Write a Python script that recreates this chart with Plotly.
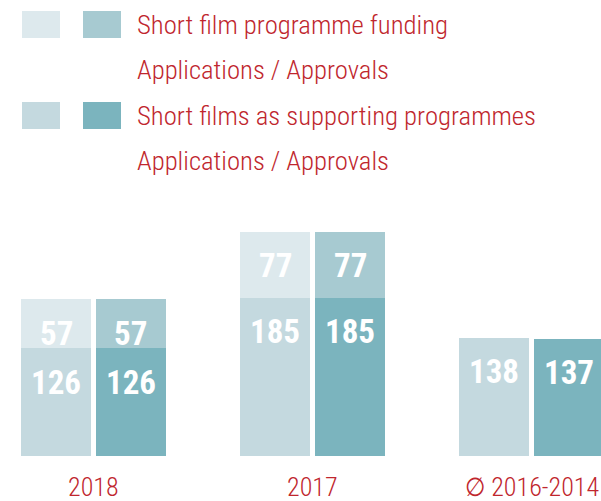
import plotly.graph_objects as go

groups = ["2018", "2017", "∅ 2016-2014"]
# bottom segment: Short films as supporting programmes
support_applications = [126, 185, 138]
support_approvals = [126, 185, 137]
# top segment: Short film programme funding
funding_applications = [57, 77, None]
funding_approvals = [57, 77, None]

legend_lines = ["Short film programme funding", "Applications / Approvals",
                "Short films as supporting programmes", "Applications / Approvals"]

C_FUND_APP = "#dde9ed"
C_FUND_APR = "#a7cad1"
C_SUP_APP = "#c4d9df"
C_SUP_APR = "#7bb4be"
RED = "#c0262d"
NUM_FONT = "Roboto Condensed, DejaVu Sans Condensed, Roboto, sans-serif"
TXT_FONT = "Roboto Condensed, DejaVu Sans Condensed, Roboto, sans-serif"

W, H = 601, 501
T, B = 200, 45
PH = H - T - B

def py(p):
    return (H - B - p) / PH

def px(p):
    return p / W

off = 0.171
bw = 0.3196
gx = list(range(len(groups)))
xl = [g - off for g in gx]
xr = [g + off for g in gx]

fig = go.Figure()
fig.add_bar(x=xl, y=support_applications, width=bw, marker_color=C_SUP_APP, marker_line_width=0)
fig.add_bar(x=xr, y=support_approvals, width=bw, marker_color=C_SUP_APR, marker_line_width=0)
fig.add_bar(x=xl, y=funding_applications, width=bw, marker_color=C_FUND_APP, marker_line_width=0)
fig.add_bar(x=xr, y=funding_approvals, width=bw, marker_color=C_FUND_APR, marker_line_width=0)

ann = []
def label(x, top, v):
    ann.append(dict(x=x, y=top, xref="x", yref="y", text=str(v), showarrow=False,
                    yanchor="middle", yshift=-34,
                    font=dict(family=NUM_FONT, size=33, color="white", weight="bold")))

for i in gx:
    label(xl[i], support_applications[i], support_applications[i])
    label(xr[i], support_approvals[i], support_approvals[i])
    if funding_applications[i] is not None:
        label(xl[i], support_applications[i] + funding_applications[i], funding_applications[i])
    if funding_approvals[i] is not None:
        label(xr[i], support_approvals[i] + funding_approvals[i], funding_approvals[i])
    ann.append(dict(x=i, y=py(487), xref="x", yref="paper", text=groups[i], showarrow=False,
                    yanchor="middle", font=dict(family=TXT_FONT, size=26, color=RED, weight=300)))

for line, yc in zip(legend_lines, [25, 70, 116, 161]):
    ann.append(dict(x=px(135), y=py(yc), xref="paper", yref="paper", text=line, showarrow=False,
                    xanchor="left", yanchor="middle",
                    font=dict(family=TXT_FONT, size=26.7, color=RED, weight=300)))

shapes = []
for (x0, x1, y0, y1, c) in [(22, 60, 11, 38, C_FUND_APP), (83, 121, 11, 38, C_FUND_APR),
                            (22, 60, 102, 129, C_SUP_APP), (83, 121, 102, 129, C_SUP_APR)]:
    shapes.append(dict(type="rect", xref="paper", yref="paper", x0=px(x0), x1=px(x1),
                       y0=py(y1), y1=py(y0), fillcolor=c, line_width=0))

fig.update_layout(
    width=W, height=H, barmode="stack", showlegend=False,
    margin=dict(l=0, r=0, t=T, b=B),
    paper_bgcolor="white", plot_bgcolor="white",
    xaxis=dict(range=[-0.427, 2.317], visible=False, fixedrange=True),
    yaxis=dict(range=[0, PH / 0.856], visible=False, fixedrange=True),
    annotations=ann, shapes=shapes,
)
fig.write_html("out.html", config={"displayModeBar": False},
               post_script="document.body.style.margin='0';document.body.style.overflow='hidden';")
